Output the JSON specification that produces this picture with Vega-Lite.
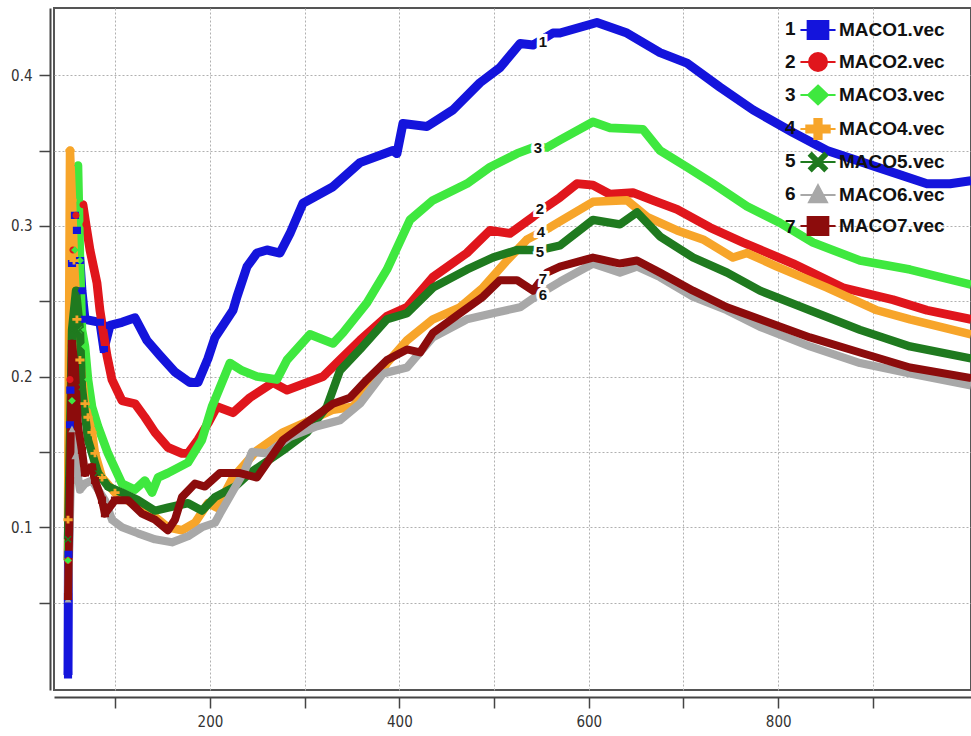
{
"$schema":"https://vega.github.io/schema/vega-lite/v6.json",
"width":917,"height":682,
"autosize":{"type":"none"},
"padding":{"left":54,"top":8,"right":0,"bottom":46},
"background":"white",
"config":{"view":{"stroke":"#555","strokeWidth":2},"axis":{"gridColor":"#b0b0b0","gridDash":[2,2],"gridWidth":1,"domainColor":"#444","domainWidth":2,"tickColor":"#444","tickWidth":1.5,"labelColor":"#333","labelOverlap":false,"title":null}},
"datasets":{
"curves":[
{"series":"MACO1.vec","num":1,"x":50.1,"y":0.002},{"series":"MACO1.vec","num":1,"x":50.6,"y":0.082},{"series":"MACO1.vec","num":1,"x":52.2,"y":0.168},{"series":"MACO1.vec","num":1,"x":52.6,"y":0.191},{"series":"MACO1.vec","num":1,"x":54.3,"y":0.275},{"series":"MACO1.vec","num":1,"x":57.4,"y":0.307},{"series":"MACO1.vec","num":1,"x":59.5,"y":0.297},{"series":"MACO1.vec","num":1,"x":62.7,"y":0.277},{"series":"MACO1.vec","num":1,"x":64.8,"y":0.257},{"series":"MACO1.vec","num":1,"x":68.0,"y":0.238},{"series":"MACO1.vec","num":1,"x":83.8,"y":0.236},{"series":"MACO1.vec","num":1,"x":88.0,"y":0.218},{"series":"MACO1.vec","num":1,"x":94.4,"y":0.234},{"series":"MACO1.vec","num":1,"x":107.1,"y":0.236},{"series":"MACO1.vec","num":1,"x":120.8,"y":0.239},{"series":"MACO1.vec","num":1,"x":133.4,"y":0.224},{"series":"MACO1.vec","num":1,"x":147.2,"y":0.214},{"series":"MACO1.vec","num":1,"x":163.0,"y":0.203},{"series":"MACO1.vec","num":1,"x":178.9,"y":0.196},{"series":"MACO1.vec","num":1,"x":187.3,"y":0.196},{"series":"MACO1.vec","num":1,"x":197.9,"y":0.212},{"series":"MACO1.vec","num":1,"x":205.3,"y":0.226},{"series":"MACO1.vec","num":1,"x":224.3,"y":0.244},{"series":"MACO1.vec","num":1,"x":228.5,"y":0.253},{"series":"MACO1.vec","num":1,"x":239.1,"y":0.273},{"series":"MACO1.vec","num":1,"x":249.6,"y":0.282},{"series":"MACO1.vec","num":1,"x":260.2,"y":0.284},{"series":"MACO1.vec","num":1,"x":273.9,"y":0.282},{"series":"MACO1.vec","num":1,"x":284.5,"y":0.295},{"series":"MACO1.vec","num":1,"x":298.2,"y":0.315},{"series":"MACO1.vec","num":1,"x":329.9,"y":0.326},{"series":"MACO1.vec","num":1,"x":358.4,"y":0.342},{"series":"MACO1.vec","num":1,"x":393.2,"y":0.350},{"series":"MACO1.vec","num":1,"x":397.4,"y":0.348},{"series":"MACO1.vec","num":1,"x":403.8,"y":0.368},{"series":"MACO1.vec","num":1,"x":429.1,"y":0.366},{"series":"MACO1.vec","num":1,"x":456.6,"y":0.377},{"series":"MACO1.vec","num":1,"x":485.1,"y":0.395},{"series":"MACO1.vec","num":1,"x":506.2,"y":0.405},{"series":"MACO1.vec","num":1,"x":527.4,"y":0.421},{"series":"MACO1.vec","num":1,"x":541.1,"y":0.420},{"series":"MACO1.vec","num":1,"x":562.2,"y":0.428},{"series":"MACO1.vec","num":1,"x":569.6,"y":0.428},{"series":"MACO1.vec","num":1,"x":608.6,"y":0.435},{"series":"MACO1.vec","num":1,"x":640.3,"y":0.428},{"series":"MACO1.vec","num":1,"x":675.2,"y":0.415},{"series":"MACO1.vec","num":1,"x":703.7,"y":0.408},{"series":"MACO1.vec","num":1,"x":738.6,"y":0.392},{"series":"MACO1.vec","num":1,"x":773.4,"y":0.377},{"series":"MACO1.vec","num":1,"x":815.6,"y":0.362},{"series":"MACO1.vec","num":1,"x":851.5,"y":0.350},{"series":"MACO1.vec","num":1,"x":904.3,"y":0.339},{"series":"MACO1.vec","num":1,"x":957.1,"y":0.328},{"series":"MACO1.vec","num":1,"x":981.4,"y":0.328},{"series":"MACO1.vec","num":1,"x":1003.6,"y":0.330},
{"series":"MACO2.vec","num":2,"x":50.1,"y":0.078},{"series":"MACO2.vec","num":2,"x":52.2,"y":0.198},{"series":"MACO2.vec","num":2,"x":55.3,"y":0.284},{"series":"MACO2.vec","num":2,"x":58.5,"y":0.307},{"series":"MACO2.vec","num":2,"x":65.9,"y":0.314},{"series":"MACO2.vec","num":2,"x":69.0,"y":0.301},{"series":"MACO2.vec","num":2,"x":73.3,"y":0.284},{"series":"MACO2.vec","num":2,"x":80.7,"y":0.262},{"series":"MACO2.vec","num":2,"x":83.8,"y":0.244},{"series":"MACO2.vec","num":2,"x":87.0,"y":0.231},{"series":"MACO2.vec","num":2,"x":91.2,"y":0.214},{"series":"MACO2.vec","num":2,"x":96.5,"y":0.198},{"series":"MACO2.vec","num":2,"x":107.1,"y":0.184},{"series":"MACO2.vec","num":2,"x":120.8,"y":0.182},{"series":"MACO2.vec","num":2,"x":131.3,"y":0.173},{"series":"MACO2.vec","num":2,"x":141.9,"y":0.163},{"series":"MACO2.vec","num":2,"x":155.6,"y":0.153},{"series":"MACO2.vec","num":2,"x":170.4,"y":0.149},{"series":"MACO2.vec","num":2,"x":176.8,"y":0.149},{"series":"MACO2.vec","num":2,"x":187.3,"y":0.158},{"series":"MACO2.vec","num":2,"x":197.9,"y":0.169},{"series":"MACO2.vec","num":2,"x":207.4,"y":0.180},{"series":"MACO2.vec","num":2,"x":224.3,"y":0.176},{"series":"MACO2.vec","num":2,"x":242.2,"y":0.186},{"series":"MACO2.vec","num":2,"x":266.5,"y":0.196},{"series":"MACO2.vec","num":2,"x":281.3,"y":0.191},{"series":"MACO2.vec","num":2,"x":302.4,"y":0.196},{"series":"MACO2.vec","num":2,"x":319.3,"y":0.200},{"series":"MACO2.vec","num":2,"x":337.2,"y":0.211},{"series":"MACO2.vec","num":2,"x":358.4,"y":0.224},{"series":"MACO2.vec","num":2,"x":386.9,"y":0.240},{"series":"MACO2.vec","num":2,"x":408.0,"y":0.246},{"series":"MACO2.vec","num":2,"x":435.4,"y":0.266},{"series":"MACO2.vec","num":2,"x":471.3,"y":0.282},{"series":"MACO2.vec","num":2,"x":495.7,"y":0.297},{"series":"MACO2.vec","num":2,"x":516.8,"y":0.295},{"series":"MACO2.vec","num":2,"x":541.1,"y":0.306},{"series":"MACO2.vec","num":2,"x":555.8,"y":0.313},{"series":"MACO2.vec","num":2,"x":569.6,"y":0.319},{"series":"MACO2.vec","num":2,"x":587.5,"y":0.328},{"series":"MACO2.vec","num":2,"x":604.4,"y":0.327},{"series":"MACO2.vec","num":2,"x":622.4,"y":0.321},{"series":"MACO2.vec","num":2,"x":646.7,"y":0.322},{"series":"MACO2.vec","num":2,"x":667.8,"y":0.317},{"series":"MACO2.vec","num":2,"x":693.2,"y":0.311},{"series":"MACO2.vec","num":2,"x":727.9,"y":0.299},{"series":"MACO2.vec","num":2,"x":762.9,"y":0.289},{"series":"MACO2.vec","num":2,"x":815.6,"y":0.275},{"series":"MACO2.vec","num":2,"x":868.4,"y":0.259},{"series":"MACO2.vec","num":2,"x":921.2,"y":0.251},{"series":"MACO2.vec","num":2,"x":957.1,"y":0.244},{"series":"MACO2.vec","num":2,"x":1003.6,"y":0.238},
{"series":"MACO3.vec","num":3,"x":50.1,"y":0.078},{"series":"MACO3.vec","num":3,"x":54.3,"y":0.184},{"series":"MACO3.vec","num":3,"x":57.4,"y":0.284},{"series":"MACO3.vec","num":3,"x":60.6,"y":0.340},{"series":"MACO3.vec","num":3,"x":62.7,"y":0.277},{"series":"MACO3.vec","num":3,"x":64.8,"y":0.231},{"series":"MACO3.vec","num":3,"x":68.0,"y":0.220},{"series":"MACO3.vec","num":3,"x":71.2,"y":0.198},{"series":"MACO3.vec","num":3,"x":75.4,"y":0.180},{"series":"MACO3.vec","num":3,"x":81.7,"y":0.167},{"series":"MACO3.vec","num":3,"x":92.3,"y":0.149},{"series":"MACO3.vec","num":3,"x":107.1,"y":0.129},{"series":"MACO3.vec","num":3,"x":120.8,"y":0.125},{"series":"MACO3.vec","num":3,"x":131.3,"y":0.131},{"series":"MACO3.vec","num":3,"x":138.8,"y":0.123},{"series":"MACO3.vec","num":3,"x":145.1,"y":0.133},{"series":"MACO3.vec","num":3,"x":155.6,"y":0.136},{"series":"MACO3.vec","num":3,"x":176.8,"y":0.143},{"series":"MACO3.vec","num":3,"x":191.5,"y":0.158},{"series":"MACO3.vec","num":3,"x":202.1,"y":0.180},{"series":"MACO3.vec","num":3,"x":207.4,"y":0.188},{"series":"MACO3.vec","num":3,"x":221.1,"y":0.209},{"series":"MACO3.vec","num":3,"x":233.8,"y":0.204},{"series":"MACO3.vec","num":3,"x":249.6,"y":0.200},{"series":"MACO3.vec","num":3,"x":270.7,"y":0.198},{"series":"MACO3.vec","num":3,"x":281.3,"y":0.211},{"series":"MACO3.vec","num":3,"x":305.6,"y":0.228},{"series":"MACO3.vec","num":3,"x":329.9,"y":0.222},{"series":"MACO3.vec","num":3,"x":340.4,"y":0.229},{"series":"MACO3.vec","num":3,"x":365.8,"y":0.249},{"series":"MACO3.vec","num":3,"x":386.9,"y":0.271},{"series":"MACO3.vec","num":3,"x":411.2,"y":0.304},{"series":"MACO3.vec","num":3,"x":435.4,"y":0.317},{"series":"MACO3.vec","num":3,"x":471.3,"y":0.328},{"series":"MACO3.vec","num":3,"x":495.7,"y":0.339},{"series":"MACO3.vec","num":3,"x":524.2,"y":0.348},{"series":"MACO3.vec","num":3,"x":541.1,"y":0.352},{"series":"MACO3.vec","num":3,"x":555.8,"y":0.352},{"series":"MACO3.vec","num":3,"x":569.6,"y":0.357},{"series":"MACO3.vec","num":3,"x":604.4,"y":0.369},{"series":"MACO3.vec","num":3,"x":622.4,"y":0.365},{"series":"MACO3.vec","num":3,"x":657.3,"y":0.364},{"series":"MACO3.vec","num":3,"x":675.2,"y":0.350},{"series":"MACO3.vec","num":3,"x":703.7,"y":0.339},{"series":"MACO3.vec","num":3,"x":731.2,"y":0.328},{"series":"MACO3.vec","num":3,"x":767.1,"y":0.313},{"series":"MACO3.vec","num":3,"x":801.9,"y":0.302},{"series":"MACO3.vec","num":3,"x":836.7,"y":0.289},{"series":"MACO3.vec","num":3,"x":886.4,"y":0.277},{"series":"MACO3.vec","num":3,"x":939.2,"y":0.271},{"series":"MACO3.vec","num":3,"x":1003.6,"y":0.261},
{"series":"MACO4.vec","num":4,"x":50.1,"y":0.105},{"series":"MACO4.vec","num":4,"x":52.2,"y":0.350},{"series":"MACO4.vec","num":4,"x":54.3,"y":0.317},{"series":"MACO4.vec","num":4,"x":56.4,"y":0.277},{"series":"MACO4.vec","num":4,"x":59.5,"y":0.238},{"series":"MACO4.vec","num":4,"x":62.7,"y":0.211},{"series":"MACO4.vec","num":4,"x":68.0,"y":0.182},{"series":"MACO4.vec","num":4,"x":71.2,"y":0.173},{"series":"MACO4.vec","num":4,"x":75.4,"y":0.163},{"series":"MACO4.vec","num":4,"x":78.6,"y":0.149},{"series":"MACO4.vec","num":4,"x":86.0,"y":0.133},{"series":"MACO4.vec","num":4,"x":99.7,"y":0.123},{"series":"MACO4.vec","num":4,"x":117.6,"y":0.116},{"series":"MACO4.vec","num":4,"x":128.2,"y":0.111},{"series":"MACO4.vec","num":4,"x":141.9,"y":0.107},{"series":"MACO4.vec","num":4,"x":155.6,"y":0.100},{"series":"MACO4.vec","num":4,"x":170.4,"y":0.098},{"series":"MACO4.vec","num":4,"x":184.2,"y":0.103},{"series":"MACO4.vec","num":4,"x":197.9,"y":0.116},{"series":"MACO4.vec","num":4,"x":207.4,"y":0.113},{"series":"MACO4.vec","num":4,"x":224.3,"y":0.133},{"series":"MACO4.vec","num":4,"x":249.6,"y":0.151},{"series":"MACO4.vec","num":4,"x":277.1,"y":0.163},{"series":"MACO4.vec","num":4,"x":305.6,"y":0.171},{"series":"MACO4.vec","num":4,"x":329.9,"y":0.178},{"series":"MACO4.vec","num":4,"x":351.0,"y":0.180},{"series":"MACO4.vec","num":4,"x":369.0,"y":0.193},{"series":"MACO4.vec","num":4,"x":386.9,"y":0.209},{"series":"MACO4.vec","num":4,"x":408.0,"y":0.224},{"series":"MACO4.vec","num":4,"x":435.4,"y":0.238},{"series":"MACO4.vec","num":4,"x":464.0,"y":0.246},{"series":"MACO4.vec","num":4,"x":488.3,"y":0.259},{"series":"MACO4.vec","num":4,"x":513.6,"y":0.277},{"series":"MACO4.vec","num":4,"x":534.8,"y":0.291},{"series":"MACO4.vec","num":4,"x":559.0,"y":0.299},{"series":"MACO4.vec","num":4,"x":569.6,"y":0.303},{"series":"MACO4.vec","num":4,"x":604.4,"y":0.316},{"series":"MACO4.vec","num":4,"x":640.3,"y":0.317},{"series":"MACO4.vec","num":4,"x":661.5,"y":0.306},{"series":"MACO4.vec","num":4,"x":693.2,"y":0.297},{"series":"MACO4.vec","num":4,"x":720.6,"y":0.291},{"series":"MACO4.vec","num":4,"x":752.3,"y":0.279},{"series":"MACO4.vec","num":4,"x":767.1,"y":0.282},{"series":"MACO4.vec","num":4,"x":798.7,"y":0.273},{"series":"MACO4.vec","num":4,"x":851.5,"y":0.259},{"series":"MACO4.vec","num":4,"x":904.3,"y":0.244},{"series":"MACO4.vec","num":4,"x":939.2,"y":0.238},{"series":"MACO4.vec","num":4,"x":1003.6,"y":0.228},
{"series":"MACO5.vec","num":5,"x":50.1,"y":0.092},{"series":"MACO5.vec","num":5,"x":54.3,"y":0.231},{"series":"MACO5.vec","num":5,"x":58.5,"y":0.257},{"series":"MACO5.vec","num":5,"x":62.7,"y":0.231},{"series":"MACO5.vec","num":5,"x":64.8,"y":0.193},{"series":"MACO5.vec","num":5,"x":71.2,"y":0.158},{"series":"MACO5.vec","num":5,"x":81.7,"y":0.136},{"series":"MACO5.vec","num":5,"x":92.3,"y":0.127},{"series":"MACO5.vec","num":5,"x":107.1,"y":0.123},{"series":"MACO5.vec","num":5,"x":123.9,"y":0.118},{"series":"MACO5.vec","num":5,"x":141.9,"y":0.111},{"series":"MACO5.vec","num":5,"x":155.6,"y":0.113},{"series":"MACO5.vec","num":5,"x":176.8,"y":0.116},{"series":"MACO5.vec","num":5,"x":191.5,"y":0.111},{"series":"MACO5.vec","num":5,"x":205.3,"y":0.120},{"series":"MACO5.vec","num":5,"x":226.4,"y":0.127},{"series":"MACO5.vec","num":5,"x":242.2,"y":0.136},{"series":"MACO5.vec","num":5,"x":277.1,"y":0.151},{"series":"MACO5.vec","num":5,"x":302.4,"y":0.163},{"series":"MACO5.vec","num":5,"x":323.5,"y":0.180},{"series":"MACO5.vec","num":5,"x":337.2,"y":0.204},{"series":"MACO5.vec","num":5,"x":358.4,"y":0.218},{"series":"MACO5.vec","num":5,"x":386.9,"y":0.238},{"series":"MACO5.vec","num":5,"x":408.0,"y":0.242},{"series":"MACO5.vec","num":5,"x":435.4,"y":0.259},{"series":"MACO5.vec","num":5,"x":471.3,"y":0.271},{"series":"MACO5.vec","num":5,"x":498.8,"y":0.279},{"series":"MACO5.vec","num":5,"x":524.2,"y":0.284},{"series":"MACO5.vec","num":5,"x":548.4,"y":0.284},{"series":"MACO5.vec","num":5,"x":569.6,"y":0.287},{"series":"MACO5.vec","num":5,"x":604.4,"y":0.304},{"series":"MACO5.vec","num":5,"x":632.9,"y":0.301},{"series":"MACO5.vec","num":5,"x":650.9,"y":0.309},{"series":"MACO5.vec","num":5,"x":675.2,"y":0.293},{"series":"MACO5.vec","num":5,"x":710.1,"y":0.279},{"series":"MACO5.vec","num":5,"x":746.0,"y":0.269},{"series":"MACO5.vec","num":5,"x":780.8,"y":0.257},{"series":"MACO5.vec","num":5,"x":833.6,"y":0.244},{"series":"MACO5.vec","num":5,"x":886.4,"y":0.231},{"series":"MACO5.vec","num":5,"x":939.2,"y":0.220},{"series":"MACO5.vec","num":5,"x":1003.6,"y":0.212},
{"series":"MACO6.vec","num":6,"x":50.1,"y":0.052},{"series":"MACO6.vec","num":6,"x":54.3,"y":0.165},{"series":"MACO6.vec","num":6,"x":57.4,"y":0.147},{"series":"MACO6.vec","num":6,"x":62.7,"y":0.125},{"series":"MACO6.vec","num":6,"x":68.0,"y":0.129},{"series":"MACO6.vec","num":6,"x":75.4,"y":0.131},{"series":"MACO6.vec","num":6,"x":89.1,"y":0.118},{"series":"MACO6.vec","num":6,"x":96.5,"y":0.105},{"series":"MACO6.vec","num":6,"x":107.1,"y":0.100},{"series":"MACO6.vec","num":6,"x":123.9,"y":0.096},{"series":"MACO6.vec","num":6,"x":141.9,"y":0.092},{"series":"MACO6.vec","num":6,"x":159.9,"y":0.090},{"series":"MACO6.vec","num":6,"x":176.8,"y":0.094},{"series":"MACO6.vec","num":6,"x":191.5,"y":0.100},{"series":"MACO6.vec","num":6,"x":205.3,"y":0.103},{"series":"MACO6.vec","num":6,"x":210.5,"y":0.109},{"series":"MACO6.vec","num":6,"x":237.0,"y":0.138},{"series":"MACO6.vec","num":6,"x":244.3,"y":0.150},{"series":"MACO6.vec","num":6,"x":260.2,"y":0.149},{"series":"MACO6.vec","num":6,"x":284.5,"y":0.160},{"series":"MACO6.vec","num":6,"x":313.0,"y":0.167},{"series":"MACO6.vec","num":6,"x":337.2,"y":0.171},{"series":"MACO6.vec","num":6,"x":358.4,"y":0.182},{"series":"MACO6.vec","num":6,"x":382.7,"y":0.202},{"series":"MACO6.vec","num":6,"x":408.0,"y":0.206},{"series":"MACO6.vec","num":6,"x":435.4,"y":0.226},{"series":"MACO6.vec","num":6,"x":471.3,"y":0.238},{"series":"MACO6.vec","num":6,"x":498.8,"y":0.242},{"series":"MACO6.vec","num":6,"x":527.4,"y":0.246},{"series":"MACO6.vec","num":6,"x":548.4,"y":0.255},{"series":"MACO6.vec","num":6,"x":569.6,"y":0.263},{"series":"MACO6.vec","num":6,"x":604.4,"y":0.275},{"series":"MACO6.vec","num":6,"x":632.9,"y":0.269},{"series":"MACO6.vec","num":6,"x":650.9,"y":0.273},{"series":"MACO6.vec","num":6,"x":675.2,"y":0.266},{"series":"MACO6.vec","num":6,"x":710.1,"y":0.253},{"series":"MACO6.vec","num":6,"x":746.0,"y":0.244},{"series":"MACO6.vec","num":6,"x":780.8,"y":0.233},{"series":"MACO6.vec","num":6,"x":833.6,"y":0.220},{"series":"MACO6.vec","num":6,"x":886.4,"y":0.209},{"series":"MACO6.vec","num":6,"x":939.2,"y":0.202},{"series":"MACO6.vec","num":6,"x":1003.6,"y":0.194},
{"series":"MACO7.vec","num":7,"x":50.1,"y":0.054},{"series":"MACO7.vec","num":7,"x":52.2,"y":0.131},{"series":"MACO7.vec","num":7,"x":54.3,"y":0.222},{"series":"MACO7.vec","num":7,"x":57.4,"y":0.206},{"series":"MACO7.vec","num":7,"x":60.6,"y":0.167},{"series":"MACO7.vec","num":7,"x":64.8,"y":0.151},{"series":"MACO7.vec","num":7,"x":68.0,"y":0.136},{"series":"MACO7.vec","num":7,"x":75.4,"y":0.140},{"series":"MACO7.vec","num":7,"x":78.6,"y":0.131},{"series":"MACO7.vec","num":7,"x":86.0,"y":0.118},{"series":"MACO7.vec","num":7,"x":89.1,"y":0.109},{"series":"MACO7.vec","num":7,"x":99.7,"y":0.118},{"series":"MACO7.vec","num":7,"x":113.4,"y":0.118},{"series":"MACO7.vec","num":7,"x":128.2,"y":0.109},{"series":"MACO7.vec","num":7,"x":141.9,"y":0.105},{"series":"MACO7.vec","num":7,"x":155.6,"y":0.098},{"series":"MACO7.vec","num":7,"x":163.0,"y":0.105},{"series":"MACO7.vec","num":7,"x":170.4,"y":0.120},{"series":"MACO7.vec","num":7,"x":184.2,"y":0.129},{"series":"MACO7.vec","num":7,"x":194.7,"y":0.127},{"series":"MACO7.vec","num":7,"x":210.5,"y":0.136},{"series":"MACO7.vec","num":7,"x":231.7,"y":0.136},{"series":"MACO7.vec","num":7,"x":249.6,"y":0.133},{"series":"MACO7.vec","num":7,"x":277.1,"y":0.158},{"series":"MACO7.vec","num":7,"x":305.6,"y":0.171},{"series":"MACO7.vec","num":7,"x":329.9,"y":0.182},{"series":"MACO7.vec","num":7,"x":347.8,"y":0.186},{"series":"MACO7.vec","num":7,"x":365.8,"y":0.198},{"series":"MACO7.vec","num":7,"x":386.9,"y":0.211},{"series":"MACO7.vec","num":7,"x":408.0,"y":0.218},{"series":"MACO7.vec","num":7,"x":421.8,"y":0.216},{"series":"MACO7.vec","num":7,"x":435.4,"y":0.229},{"series":"MACO7.vec","num":7,"x":464.0,"y":0.242},{"series":"MACO7.vec","num":7,"x":488.3,"y":0.253},{"series":"MACO7.vec","num":7,"x":506.2,"y":0.264},{"series":"MACO7.vec","num":7,"x":524.2,"y":0.264},{"series":"MACO7.vec","num":7,"x":541.1,"y":0.257},{"series":"MACO7.vec","num":7,"x":555.8,"y":0.269},{"series":"MACO7.vec","num":7,"x":569.6,"y":0.273},{"series":"MACO7.vec","num":7,"x":604.4,"y":0.279},{"series":"MACO7.vec","num":7,"x":632.9,"y":0.275},{"series":"MACO7.vec","num":7,"x":650.9,"y":0.277},{"series":"MACO7.vec","num":7,"x":675.2,"y":0.269},{"series":"MACO7.vec","num":7,"x":710.1,"y":0.257},{"series":"MACO7.vec","num":7,"x":746.0,"y":0.246},{"series":"MACO7.vec","num":7,"x":780.8,"y":0.238},{"series":"MACO7.vec","num":7,"x":833.6,"y":0.226},{"series":"MACO7.vec","num":7,"x":886.4,"y":0.216},{"series":"MACO7.vec","num":7,"x":939.2,"y":0.206},{"series":"MACO7.vec","num":7,"x":1003.6,"y":0.199}
],
"labels":[
{"label":"1","x":551.6,"y":0.422},{"label":"3","x":546.3,"y":0.352},{"label":"2","x":548.4,"y":0.311},{"label":"4","x":549.5,"y":0.296},{"label":"5","x":548.4,"y":0.283},{"label":"7","x":551.6,"y":0.265},{"label":"6","x":551.6,"y":0.254}
]},
"encoding":{
"x":{"field":"x","type":"quantitative","scale":{"domain":[35.3,1003.6],"nice":false,"zero":false},"axis":{"values":[100,200,300,400,500,600,700,800,900],"labelExpr":"datum.value % 200 == 0 ? datum.label : ''","format":"d","offset":7,"tickSize":11,"labelPadding":6,"labelFont":"DejaVu Sans Condensed","labelFontSize":15,"grid":true}},
"y":{"field":"y","type":"quantitative","scale":{"domain":[-0.008,0.4446],"nice":false,"zero":false},"axis":{"values":[0.05,0.1,0.15,0.2,0.25,0.3,0.35,0.4],"labelExpr":"round(datum.value*100) % 10 == 0 ? format(datum.value, '.1f') : ''","offset":4,"tickSize":11,"labelPadding":7,"labelFont":"DejaVu Sans Condensed","labelFontSize":15,"grid":true}}
},
"layer":[
{"data":{"name":"curves"},"mark":{"type":"line","clip":true,"strokeJoin":"round"},
"encoding":{
"color":{"field":"series","type":"nominal","scale":{"domain":["MACO1.vec","MACO2.vec","MACO3.vec","MACO4.vec","MACO5.vec","MACO6.vec","MACO7.vec"],"range":["#1414dc","#e0161c","#3fe83f","#f7a52a","#1f7a1f","#a8a8a8","#8c0c0c"]},
"legend":{"orient":"none","legendX":754,"legendY":12,"title":null,"symbolSize":324,"labelFont":"Liberation Sans","labelFontSize":19,"labelFontWeight":"bold","labelColor":"#111","labelOffset":11,"rowPadding":6,"padding":0,"encode":{"symbols":{"update":{"fill":{"scale":"color","field":"value"},"stroke":{"scale":"color","field":"value"},"strokeWidth":{"value":2},"opacity":{"value":1}}}}}},
"strokeWidth":{"field":"num","type":"ordinal","scale":{"domain":[1,2,3,4,5,6,7],"range":[9,8,7,7,4,6,7]},
"legend":{"orient":"none","legendX":712,"legendY":11,"title":null,"symbolSize":0,"symbolOpacity":0,"labelFont":"Liberation Sans","labelFontSize":19,"labelFontWeight":"bold","labelColor":"#111","labelOffset":0,"rowPadding":13,"padding":0,"encode":{"symbols":{"update":{"size":{"value":0},"strokeWidth":{"value":0},"opacity":{"value":0}}}}}}
}},
{"data":{"name":"curves"},"transform":[{"filter":"datum.x < 100"}],"mark":{"type":"point","filled":true,"opacity":1,"size":50,"clip":true,"strokeWidth":0},
"encoding":{
"color":{"field":"series","type":"nominal","legend":{"orient":"none","legendX":754,"legendY":12,"title":null,"symbolSize":324,"labelFont":"Liberation Sans","labelFontSize":19,"labelFontWeight":"bold","labelColor":"#111","labelOffset":11,"rowPadding":6,"padding":0,"encode":{"symbols":{"update":{"fill":{"scale":"color","field":"value"},"stroke":{"scale":"color","field":"value"},"strokeWidth":{"value":2},"opacity":{"value":1}}}}}},
"shape":{"field":"series","type":"nominal","scale":{"domain":["MACO1.vec","MACO2.vec","MACO3.vec","MACO4.vec","MACO5.vec","MACO6.vec","MACO7.vec"],"range":["M-1.95,0H1.95M-1.15,-1H1.15V1H-1.15Z","M-1.95,0H1.95M-1,0A1,1 0 1,0 1,0A1,1 0 1,0 -1,0Z","M-1.95,0H1.95M0,-1.05L1.1,0L0,1.05L-1.1,0Z","M-1.95,0H1.95M-0.4,-1.1H0.4V-0.4H1.3V0.4H0.4V1.1H-0.4V0.4H-1.3V-0.4H-0.4Z","M-1.95,0H1.95M-1,-0.7L-0.7,-1L0,-0.3L0.7,-1L1,-0.7L0.3,0L1,0.7L0.7,1L0,0.3L-0.7,1L-1,0.7L-0.3,0Z","M-1.95,0H1.95M0,-1.1L1,0.8H-1Z","M-1.95,0H1.95M-1.15,-1H1.15V1H-1.15Z"]},
"legend":{"orient":"none","legendX":754,"legendY":12,"title":null,"symbolSize":324,"labelFont":"Liberation Sans","labelFontSize":19,"labelFontWeight":"bold","labelColor":"#111","labelOffset":11,"rowPadding":6,"padding":0,"encode":{"symbols":{"update":{"fill":{"scale":"color","field":"value"},"stroke":{"scale":"color","field":"value"},"strokeWidth":{"value":2},"opacity":{"value":1}}}}}}
}},
{"data":{"name":"labels"},"mark":{"type":"text","font":"Liberation Sans","fontSize":15,"fontWeight":"bold","color":"white","stroke":"white","strokeWidth":6,"align":"center","baseline":"middle"},"encoding":{"text":{"field":"label"}}},
{"data":{"name":"labels"},"mark":{"type":"text","font":"Liberation Sans","fontSize":15,"fontWeight":"bold","color":"#111","align":"center","baseline":"middle"},"encoding":{"text":{"field":"label"}}}
]
}
